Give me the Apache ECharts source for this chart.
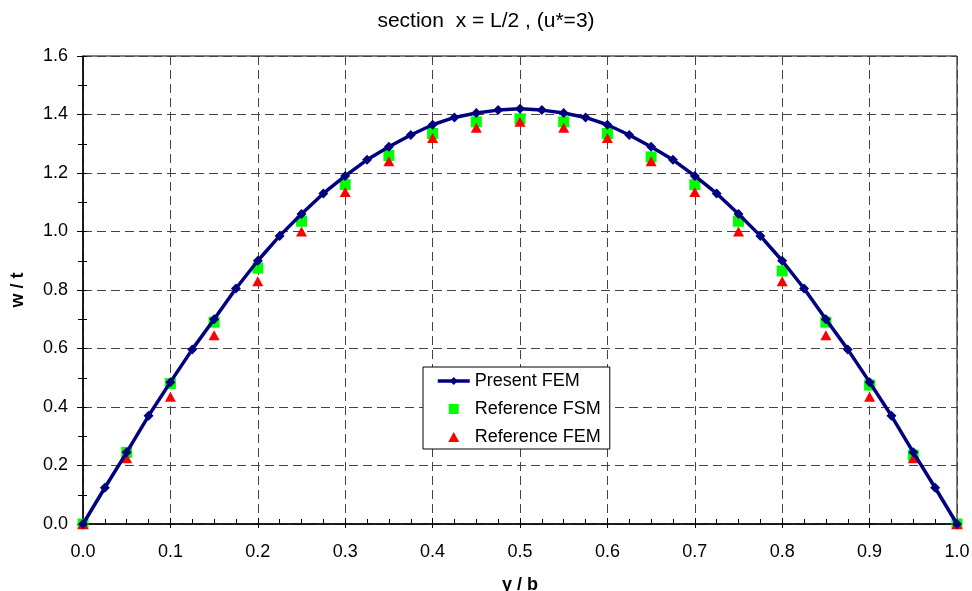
<!DOCTYPE html>
<html><head><meta charset="utf-8">
<script src="https://cdn.jsdelivr.net/npm/echarts@6/dist/echarts.min.js"></script>
<style>html,body{margin:0;padding:0;background:#fff}#c{width:972px;height:591px}</style>
</head><body><div id="c"></div>
<script>
var presentX = [0,0.025,0.05,0.075,0.1,0.125,0.15,0.175,0.2,0.225,0.25,0.275,0.3,0.325,0.35,0.375,0.4,0.425,0.45,0.475,0.5,0.525,0.55,0.575,0.6,0.625,0.65,0.675,0.7,0.725,0.75,0.775,0.8,0.825,0.85,0.875,0.9,0.925,0.95,0.975,1.0];
var presentY = [0,0.124,0.245,0.37,0.485,0.597,0.70,0.805,0.90,0.985,1.06,1.13,1.19,1.245,1.29,1.33,1.365,1.39,1.405,1.415,1.42,1.415,1.405,1.39,1.365,1.33,1.29,1.245,1.19,1.13,1.06,0.985,0.90,0.805,0.70,0.597,0.485,0.37,0.245,0.124,0];
var refX = [0,0.05,0.1,0.15,0.2,0.25,0.3,0.35,0.4,0.45,0.5,0.55,0.6,0.65,0.7,0.75,0.8,0.85,0.9,0.95,1.0];
var fsmY = [0,0.245,0.48,0.69,0.875,1.035,1.16,1.26,1.335,1.375,1.385,1.375,1.335,1.255,1.16,1.035,0.865,0.69,0.475,0.235,0];
var femY = [0,0.225,0.435,0.645,0.83,1.0,1.135,1.24,1.32,1.355,1.375,1.355,1.32,1.24,1.135,1.0,0.83,0.645,0.435,0.225,0];
function pairs(xs, ys){ return xs.map(function(x,i){return [x, ys[i]];}); }
var ff = '"Liberation Sans", Arial, sans-serif';
var fs = 18;
function fmt(v){ return v.toFixed(1); }
var chart = echarts.init(document.getElementById('c'));
var gridLine = {show:true, lineStyle:{color:'#444', type:[9,5], width:1}};
chart.setOption({
  animation:false,
  backgroundColor:'#fff',
  textStyle:{fontFamily:ff},
  title:{text:'section  x = L/2 , (u*=3)', left:'center', top:6,
    textStyle:{fontFamily:ff, fontSize:21, fontWeight:'normal', color:'#000'}},
  grid:{left:83, right:15, top:56, bottom:67, outerBoundsMode:'none', containLabel:false,
    show:true, borderColor:'#000', borderWidth:1, backgroundColor:'#fff'},
  legend:{
    orient:'vertical', left:423, top:367,
    backgroundColor:'#fff', borderColor:'#000', borderWidth:1,
    padding:[5,9,3,13], itemGap:10, itemWidth:32, itemHeight:10,
    symbolKeepAspect:true,
    textStyle:{fontFamily:ff, fontSize:fs, color:'#000', lineHeight:18},
    data:[
      {name:'Present FEM', lineStyle:{width:3.5, color:'#000080'}},
      {name:'Reference FSM', icon:'path://M0,0L10,0L10,10L0,10Z', itemStyle:{opacity:1}},
      {name:'Reference FEM', icon:'path://M5,0L10,9L0,9Z', itemStyle:{opacity:1}}
    ]
  },
  xAxis:[{type:'value', min:0, max:1, interval:0.1,
    name:'y / b', nameLocation:'middle', nameGap:52,
    nameTextStyle:{fontFamily:ff, fontSize:fs, fontWeight:'bold', color:'#000'},
    axisLine:{onZero:false, lineStyle:{color:'#000', width:1.5}},
    axisTick:{show:true, inside:true, length:6, lineStyle:{color:'#000'}},
    minorTick:{show:true, splitNumber:4, length:5, lineStyle:{color:'#000'}},
    axisLabel:{fontFamily:ff, fontSize:fs, color:'#000', margin:19, formatter:fmt},
    splitLine:gridLine
  },{type:'value', min:0, max:1, interval:0.1, position:'bottom',
    axisLine:{show:false}, axisLabel:{show:false}, splitLine:{show:false},
    axisTick:{show:true, inside:false, length:4, lineStyle:{color:'#000'}}
  }],
  yAxis:[{type:'value', min:0, max:1.6, interval:0.2,
    name:'w / t', nameLocation:'middle', nameGap:56,
    nameTextStyle:{fontFamily:ff, fontSize:fs, fontWeight:'bold', color:'#000'},
    axisLine:{onZero:false, lineStyle:{color:'#000', width:1.5}},
    axisTick:{show:true, inside:true, length:4, lineStyle:{color:'#000'}},
    minorTick:{show:true, splitNumber:2, length:4, lineStyle:{color:'#000'}},
    axisLabel:{fontFamily:ff, fontSize:fs, color:'#000', margin:15, formatter:fmt},
    splitLine:gridLine
  },{type:'value', min:0, max:1.6, interval:0.2, position:'left',
    axisLine:{show:false}, axisLabel:{show:false}, splitLine:{show:false},
    axisTick:{show:true, inside:false, length:6, lineStyle:{color:'#000'}},
    minorTick:{show:true, splitNumber:2, length:5, lineStyle:{color:'#000'}}
  }],
  series:[
    {name:'Reference FSM', type:'scatter', data:pairs(refX, fsmY), symbol:'rect', symbolSize:11,
      itemStyle:{color:'#00FF00', opacity:1}, z:3},
    {name:'Reference FEM', type:'scatter', data:pairs(refX, femY), symbol:'triangle', symbolSize:[11,10],
      itemStyle:{color:'#FF0000', opacity:1}, z:4},
    {name:'Present FEM', type:'line', data:pairs(presentX, presentY), symbol:'diamond', symbolSize:10,
      showAllSymbol:true, lineStyle:{color:'#000080', width:3.5}, itemStyle:{color:'#000080'}, z:5}
  ]
});
</script></body></html>
